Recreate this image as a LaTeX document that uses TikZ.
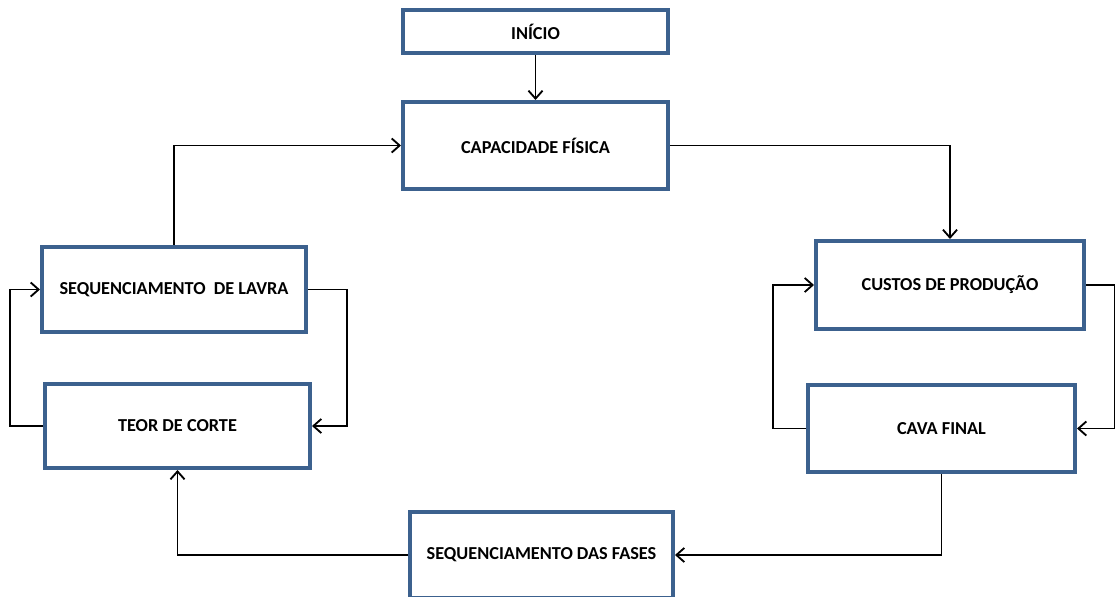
\documentclass[tikz,border=0pt]{standalone}
\usepackage{fontspec}
\setmainfont{Carlito}
\usetikzlibrary{arrows.meta}
\definecolor{boxblue}{RGB}{60,97,142}
\begin{document}
\begin{tikzpicture}[x=0.02cm,y=-0.02cm,
  box/.style={draw=boxblue,line width=2.3pt,fill=white,inner sep=0pt,
    font=\fontsize{10.4}{12}\selectfont\bfseries},
  arr/.style={draw=black,line width=1.05pt,-{Straight Barb[length=4.5pt,width=8pt,line width=1.05pt]}}]
\useasboundingbox (0,0) rectangle (1115,596);
\node[box,minimum width=5.3cm,minimum height=0.86cm] (ini) at (535.5,31.5) {INÍCIO};
\node[box,minimum width=5.3cm,minimum height=1.74cm] (cap) at (535.5,145.5) {CAPACIDADE FÍSICA};
\node[box,minimum width=5.28cm,minimum height=1.7cm] (seq) at (174,289.5) {SEQUENCIAMENTO\ \ DE LAVRA};
\node[box,minimum width=5.3cm,minimum height=1.68cm] (teor) at (177.5,426) {TEOR DE CORTE};
\node[box,minimum width=5.36cm,minimum height=1.76cm] (custos) at (950,285) {CUSTOS DE PRODUÇÃO};
\node[box,minimum width=5.34cm,minimum height=1.74cm] (cava) at (941.5,428.5) {CAVA FINAL};
\node[box,minimum width=5.26cm,minimum height=1.72cm] (fases) at (541.5,555) {SEQUENCIAMENTO DAS FASES};
\draw[arr] (ini) -- (cap);
\draw[arr] (seq.north) |- (cap.west);
\draw[arr] (cap.east) -| (custos.north);
\draw[arr] (seq.east) -- ++(39,0) |- (teor.east);
\draw[arr] (teor.west) -- ++(-33,0) |- (seq.west);
\draw[arr] (custos.east) -- ++(29,0) |- (cava.east);
\draw[arr] (cava.west) -- ++(-33,0) |- (custos.west);
\draw[arr] (cava.south) |- (fases.east);
\draw[arr] (fases.west) -| (teor.south);
\end{tikzpicture}
\end{document}
